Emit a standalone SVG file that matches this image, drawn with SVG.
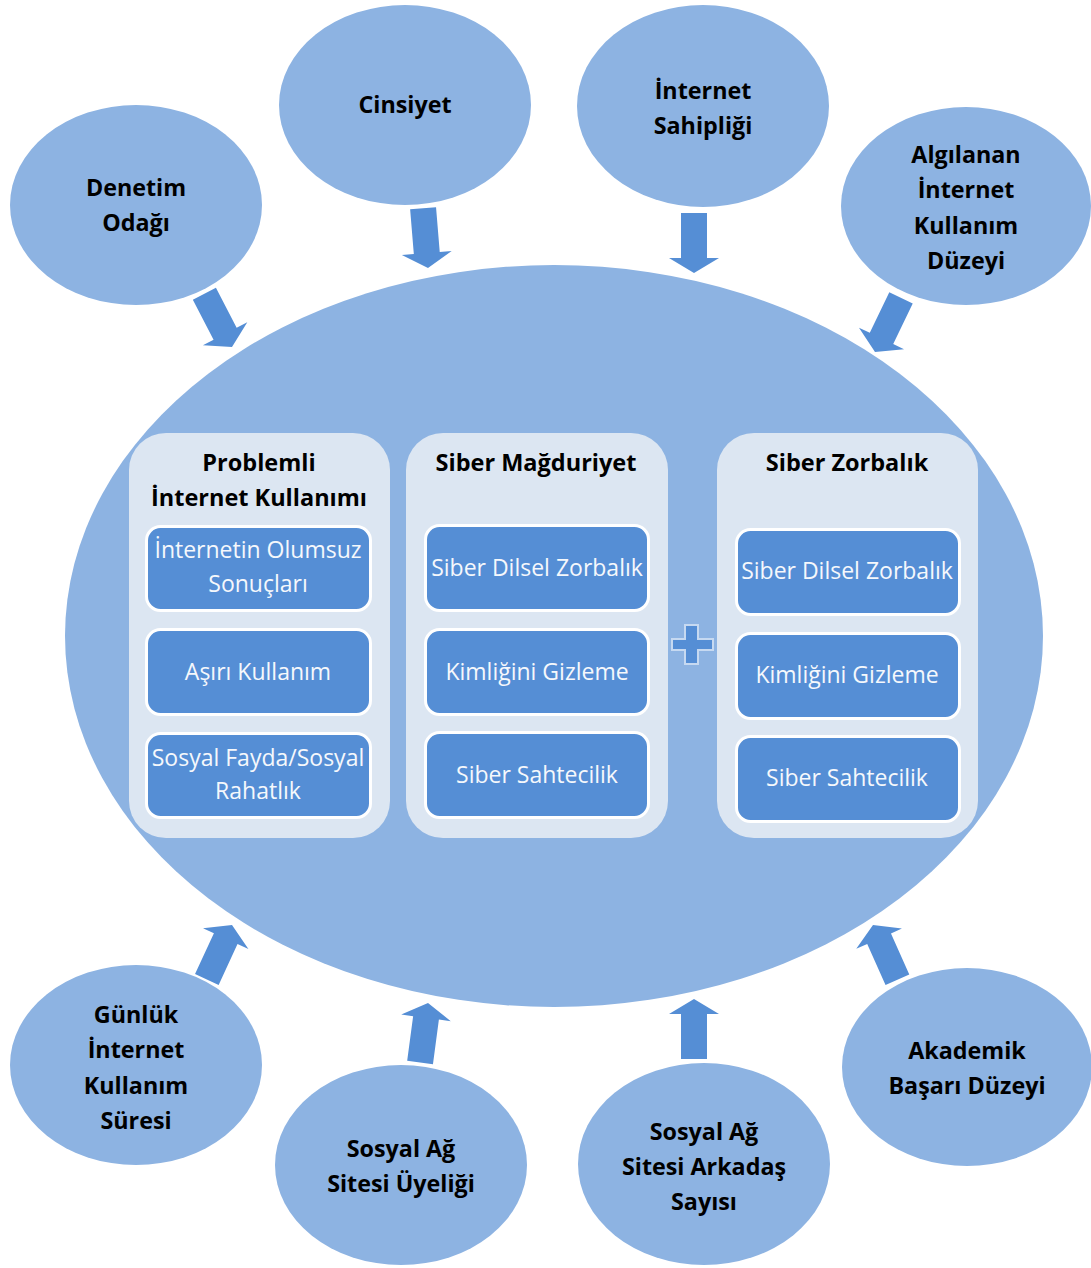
<svg xmlns="http://www.w3.org/2000/svg" width="1091" height="1268" viewBox="0 0 1091 1268">
<defs>
<style>
.circ{fill:#8DB3E2}
.arrow{fill:#558ED5}
.panel{fill:#DCE6F2}
.box{fill:#558ED5;stroke:#FFFFFF;stroke-width:3}
.ot{font-family:"Open Sans","Noto Sans",sans-serif;font-weight:bold;font-size:23.3px;fill:#000;text-anchor:middle}
.pt{font-family:"Open Sans","Noto Sans",sans-serif;font-weight:bold;font-size:23.5px;fill:#000;text-anchor:middle}
.bt{font-family:"Open Sans","Noto Sans",sans-serif;font-size:23px;fill:#F5F8FC;text-anchor:middle}
</style>
<path id="arr" d="M0,0 L-25,-15 L-13,-15 L-13,-60 L13,-60 L13,-15 L25,-15 Z"/>
</defs>
<rect width="1091" height="1268" fill="#FFFFFF"/>

<g id="center">
<ellipse class="circ" cx="554" cy="636" rx="489" ry="371"/>
</g>

<g id="n-denetim"><ellipse class="circ" cx="136" cy="205" rx="126" ry="100"/>
<text class="ot" x="136" y="196">Denetim</text><text class="ot" x="136" y="231">Odağı</text></g>
<g id="n-cinsiyet"><ellipse class="circ" cx="405" cy="105" rx="126" ry="100"/>
<text class="ot" x="405" y="113">Cinsiyet</text></g>
<g id="n-sahiplik"><ellipse class="circ" cx="703" cy="106" rx="126" ry="101"/>
<text class="ot" x="703" y="99">İnternet</text><text class="ot" x="703" y="134">Sahipliği</text></g>
<g id="n-algilanan"><ellipse class="circ" cx="966" cy="206" rx="125" ry="99"/>
<text class="ot" x="966" y="163">Algılanan</text><text class="ot" x="966" y="198">İnternet</text><text class="ot" x="966" y="234">Kullanım</text><text class="ot" x="966" y="269">Düzeyi</text></g>
<g id="n-gunluk"><ellipse class="circ" cx="136" cy="1065" rx="126" ry="100"/>
<text class="ot" x="136" y="1023">Günlük</text><text class="ot" x="136" y="1058">İnternet</text><text class="ot" x="136" y="1094">Kullanım</text><text class="ot" x="136" y="1129">Süresi</text></g>
<g id="n-uyelik"><ellipse class="circ" cx="401" cy="1165" rx="126" ry="100"/>
<text class="ot" x="401" y="1157">Sosyal Ağ</text><text class="ot" x="401" y="1192">Sitesi Üyeliği</text></g>
<g id="n-arkadas"><ellipse class="circ" cx="704" cy="1164" rx="126" ry="101"/>
<text class="ot" x="704" y="1140">Sosyal Ağ</text><text class="ot" x="704" y="1175">Sitesi Arkadaş</text><text class="ot" x="704" y="1210">Sayısı</text></g>
<g id="n-akademik"><ellipse class="circ" cx="967" cy="1067" rx="125" ry="99"/>
<text class="ot" x="967" y="1059">Akademik</text><text class="ot" x="967" y="1094">Başarı Düzeyi</text></g>

<g id="connectors">
<use href="#arr" class="arrow" transform="translate(232,347) rotate(-27.4)"/>
<use href="#arr" class="arrow" transform="translate(428,268) rotate(-4.7)"/>
<use href="#arr" class="arrow" transform="translate(694,273)"/>
<use href="#arr" class="arrow" transform="translate(875,352) rotate(25.7)"/>
<use href="#arr" class="arrow" transform="translate(232,925) rotate(-155.2)"/>
<use href="#arr" class="arrow" transform="translate(428,1003) rotate(-172.4)"/>
<use href="#arr" class="arrow" transform="translate(694,999) rotate(180)"/>
<use href="#arr" class="arrow" transform="translate(873,925) rotate(156)"/>
</g>

<g id="p-problemli">
<rect class="panel" x="129" y="433" width="261" height="405" rx="37"/>
<text class="pt" x="259" y="471">Problemli</text>
<text class="pt" x="259" y="506">İnternet Kullanımı</text>
<rect class="box" x="146.5" y="526.5" width="224" height="84" rx="14"/>
<text class="bt" x="258" y="558">İnternetin Olumsuz</text>
<text class="bt" x="258" y="592">Sonuçları</text>
<rect class="box" x="146.5" y="629.5" width="224" height="85" rx="14"/>
<text class="bt" x="258" y="680">Aşırı Kullanım</text>
<rect class="box" x="146.5" y="733.5" width="224" height="84" rx="14"/>
<text class="bt" x="258" y="766">Sosyal Fayda/Sosyal</text>
<text class="bt" x="258" y="799">Rahatlık</text>
</g>

<g id="p-magduriyet">
<rect class="panel" x="406" y="433" width="262" height="405" rx="37"/>
<text class="pt" x="536" y="471">Siber Mağduriyet</text>
<rect class="box" x="425.5" y="525.5" width="223" height="85" rx="14"/>
<text class="bt" x="537" y="576">Siber Dilsel Zorbalık</text>
<rect class="box" x="425.5" y="629.5" width="223" height="85" rx="14"/>
<text class="bt" x="537" y="680">Kimliğini Gizleme</text>
<rect class="box" x="425.5" y="732.5" width="223" height="85" rx="14"/>
<text class="bt" x="537" y="783">Siber Sahtecilik</text>
</g>

<g id="plus">
<path d="M685,625 H698 V639 H713 V650 H698 V664 H685 V650 H672 V639 H685 Z" fill="#558ED5" stroke="#C6D9F1" stroke-width="2"/>
</g>

<g id="p-zorbalik">
<rect class="panel" x="717" y="433" width="261" height="405" rx="37"/>
<text class="pt" x="847" y="471">Siber Zorbalık</text>
<rect class="box" x="736.5" y="529.5" width="223" height="85" rx="14"/>
<text class="bt" x="847" y="579">Siber Dilsel Zorbalık</text>
<rect class="box" x="736.5" y="633.5" width="223" height="85" rx="14"/>
<text class="bt" x="847" y="683">Kimliğini Gizleme</text>
<rect class="box" x="736.5" y="736.5" width="223" height="85" rx="14"/>
<text class="bt" x="847" y="786">Siber Sahtecilik</text>
</g>
</svg>
